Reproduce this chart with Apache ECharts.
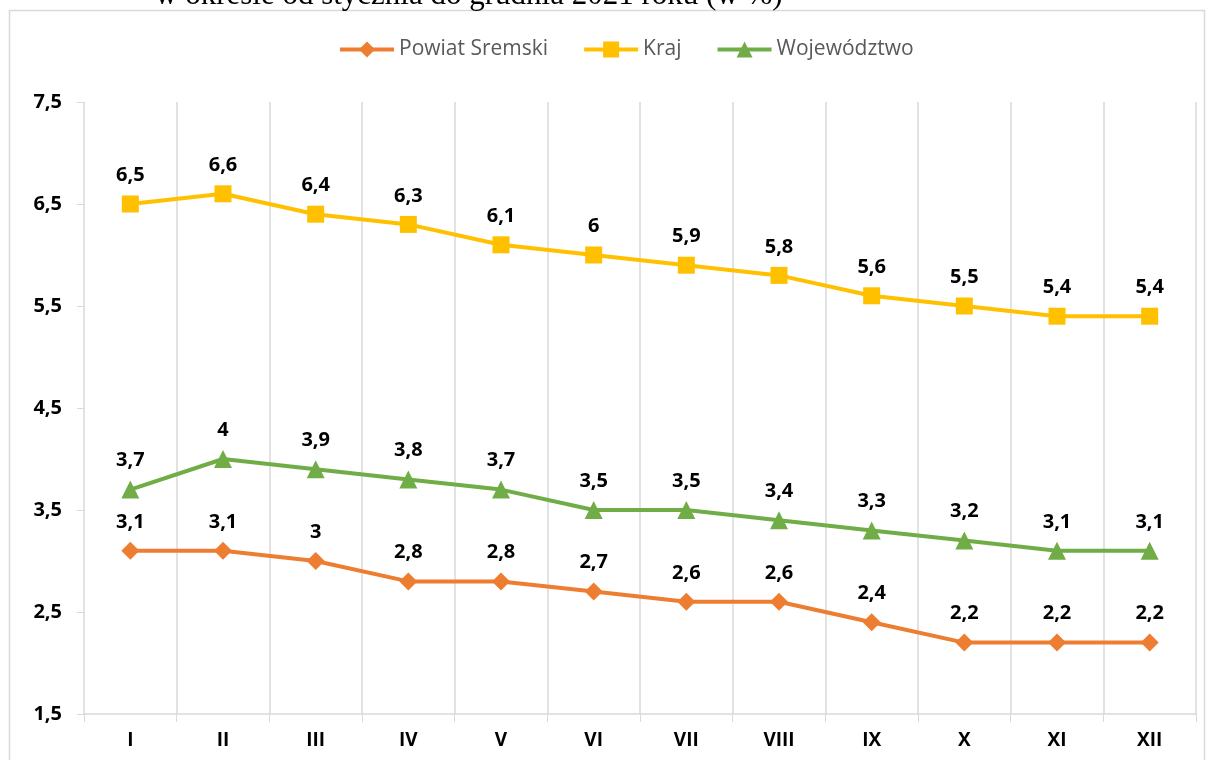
<!DOCTYPE html>
<html>
<head>
<meta charset="utf-8">
<script src="https://cdn.jsdelivr.net/npm/echarts@6/dist/echarts.min.js"></script>
<style>
  html, body { margin: 0; padding: 0; background: #fff; }
  #chart { width: 1206px; height: 760px; }
</style>
</head>
<body>
<div id="chart"></div>
<script>
// dane
var months = ['I', 'II', 'III', 'IV', 'V', 'VI', 'VII', 'VIII', 'IX', 'X', 'XI', 'XII'];
var powiat = [3.1, 3.1, 3.0, 2.8, 2.8, 2.7, 2.6, 2.6, 2.4, 2.2, 2.2, 2.2];
var kraj = [6.5, 6.6, 6.4, 6.3, 6.1, 6.0, 5.9, 5.8, 5.6, 5.5, 5.4, 5.4];
var wojewodztwo = [3.7, 4.0, 3.9, 3.8, 3.7, 3.5, 3.5, 3.4, 3.3, 3.2, 3.1, 3.1];
var yTicks = [1.5, 2.5, 3.5, 4.5, 5.5, 6.5, 7.5];

var font = '"Open Sans", sans-serif';
function pl(v) { return String(v).replace('.', ','); }

function makeSeries(name, data, color, symbol, size) {
    return {
        name: name,
        type: 'line',
        data: data,
        symbol: symbol,
        symbolSize: size,
        lineStyle: { color: color, width: 4 },
        itemStyle: { color: color },
        label: {
            show: true,
            position: 'top',
            distance: 10,
            color: '#000',
            fontFamily: font,
            fontWeight: 'bold',
            fontSize: 20,
            formatter: function (p) { return pl(p.value); }
        },
        animation: false
    };
}

var chart = echarts.init(document.getElementById('chart'));
var option = {
    backgroundColor: '#fff',
    graphic: [
        {
            type: 'rect',
            shape: { x: 9.5, y: 10.5, width: 1195, height: 760 },
            style: { fill: 'none', stroke: '#d9d9d9', lineWidth: 1.5 },
            silent: true
        },
        {
            type: 'text',
            left: 155,
            top: -20,
            style: {
                text: 'w okresie od stycznia do grudnia 2021 roku (w %)',
                fontFamily: '"Liberation Serif", serif',
                fontSize: 31,
                fill: '#000'
            }
        }
    ],
    legend: {
        top: 34,
        left: 333,
        itemWidth: 54,
        itemHeight: 20,
        itemGap: 34,
        lineStyle: { width: 4 },
        textStyle: { color: '#595959', fontFamily: font, fontSize: 21 },
        data: ['Powiat Sremski', 'Kraj', 'Województwo']
    },
    grid: { left: 84, right: 10, top: 102, bottom: 46 },
    xAxis: {
        type: 'category',
        data: months,
        boundaryGap: true,
        axisLine: { lineStyle: { color: '#d9d9d9', width: 1.5 } },
        axisTick: { show: true, length: 8, lineStyle: { color: '#d9d9d9' } },
        splitLine: { show: true, lineStyle: { color: '#d9d9d9', width: 1.5 } },
        axisLabel: {
            color: '#000',
            fontFamily: font,
            fontWeight: 'bold',
            fontSize: 19,
            margin: 17
        }
    },
    yAxis: {
        type: 'value',
        min: yTicks[0],
        max: yTicks[yTicks.length - 1],
        interval: 1,
        axisLine: { show: false },
        axisTick: { show: true, length: 7, lineStyle: { color: '#d9d9d9' } },
        splitLine: { show: false },
        axisLabel: {
            color: '#000',
            fontFamily: font,
            fontWeight: 'bold',
            fontSize: 20,
            margin: 22,
            formatter: function (v) { return pl(v); }
        }
    },
    series: [
        makeSeries('Powiat Sremski', powiat, '#ED7D31', 'diamond', 18),
        makeSeries('Kraj', kraj, '#FFC000', 'rect', 17),
        makeSeries('Województwo', wojewodztwo, '#70AD47', 'triangle', 18)
    ]
};
chart.setOption(option);
</script>
</body>
</html>
